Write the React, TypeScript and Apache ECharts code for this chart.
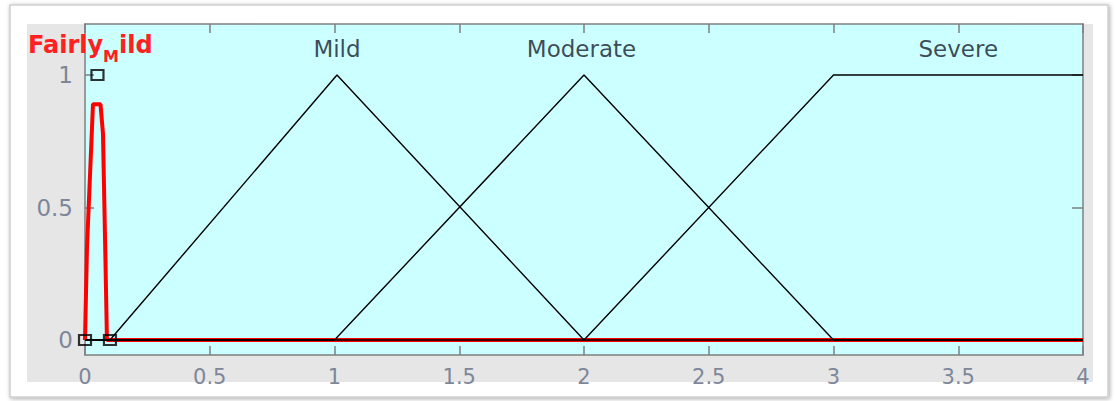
import React, { useEffect, useRef } from "react";
import * as echarts from "echarts";

// Membership functions (x, membership)
const fairlyMild: [number, number][] = [
  [0, 0], [0.008, 0.35], [0.032, 0.89], [0.062, 0.89], [0.072, 0.78], [0.082, 0.3], [0.088, 0], [4, 0],
];
const mild: [number, number][] = [[0, 0], [0.1, 0], [1.01, 1], [2, 0], [4, 0]];
const moderate: [number, number][] = [[0, 0], [1, 0], [2, 1], [3, 0], [4, 0]];
const severe: [number, number][] = [[0, 0], [2, 0], [3, 1], [4, 1]];
const controlPoints: [number, number][] = [[0, 0], [0.05, 1], [0.1, 0]];
const mfNames = ["Mild", "Moderate", "Severe"];
const mfLabelPos: [number, number][] = [[1.01, 1.1], [1.99, 1.1], [3.5, 1.1]];
const yTicks = [0, 0.5, 1];
const xTicks = [0, 0.5, 1, 1.5, 2, 2.5, 3, 3.5, 4];

export default function App() {
  const ref = useRef<HTMLDivElement>(null);
  useEffect(() => {
    if (!ref.current) return;
    const chart = echarts.init(ref.current, undefined, { renderer: "svg" });
    const axisColor = "#7f7f7f";
    const labelColor = "#7d8799";
    const font = "DejaVu Sans";
    chart.setOption({
      animation: false,
      graphic: [
        {
          type: "rect",
          z: -20,
          shape: { x: 10, y: 5, width: 1098, height: 392 },
          style: {
            fill: "#ffffff",
            stroke: "#cfcfcf",
            lineWidth: 1.5,
            shadowBlur: 4,
            shadowColor: "rgba(0,0,0,0.35)",
            shadowOffsetX: 1,
            shadowOffsetY: 1,
          },
        },
        {
          type: "rect",
          z: -10,
          shape: { x: 27, y: 24, width: 1066, height: 358 },
          style: { fill: "#e6e6e6" },
        },
        {
          type: "text",
          z: 10,
          left: 28,
          top: 33,
          style: {
            text: "{a|Fairly}{b|M}{a|ild}",
            rich: {
              a: { fontFamily: font, fontWeight: "bold", fontSize: 24, fill: "#ff2020", verticalAlign: "top" },
              b: { fontFamily: font, fontWeight: "bold", fontSize: 16, fill: "#ff2020", padding: [15, 0, 0, 0] },
            },
          },
        },
      ],
      grid: {
        left: 85,
        right: 32,
        top: 24,
        bottom: 46,
        show: true,
        backgroundColor: "#ccffff",
        borderWidth: 0,
      },
      xAxis: [
        {
          type: "value",
          min: 0,
          max: 4,
          interval: 0.5,
          position: "bottom",
          axisLine: { show: true, onZero: false, lineStyle: { color: axisColor, width: 1.5 } },
          axisTick: { show: true, inside: true, length: 9, lineStyle: { color: axisColor, width: 1.5 } },
          splitLine: { show: false },
          axisLabel: {
            color: labelColor,
            fontFamily: font,
            fontSize: 21,
            margin: 11,
            showMaxLabel: true,
            showMinLabel: true,
            customValues: xTicks,
          },
        },
        {
          type: "value",
          min: 0,
          max: 4,
          interval: 0.5,
          position: "top",
          axisLine: { show: true, onZero: false, lineStyle: { color: axisColor, width: 1.5 } },
          axisTick: { show: true, inside: true, length: 9, lineStyle: { color: axisColor, width: 1.5 } },
          splitLine: { show: false },
          axisLabel: { show: false },
        },
      ],
      yAxis: [
        {
          type: "value",
          min: -0.0566,
          max: 1.1925,
          position: "left",
          axisLine: { show: true, onZero: false, lineStyle: { color: axisColor, width: 1.5 } },
          axisTick: { show: true, inside: true, length: 9, customValues: yTicks, lineStyle: { color: axisColor, width: 1.5 } },
          splitLine: { show: false },
          axisLabel: { color: labelColor, fontFamily: font, fontSize: 23, margin: 12, customValues: yTicks },
        },
        {
          type: "value",
          min: -0.0566,
          max: 1.1925,
          position: "right",
          axisLine: { show: true, onZero: false, lineStyle: { color: axisColor, width: 1.5 } },
          axisTick: { show: true, inside: true, length: 11, customValues: yTicks, lineStyle: { color: axisColor, width: 1.5 } },
          splitLine: { show: false },
          axisLabel: { show: false },
        },
      ],
      series: [
        {
          name: "Fairly_Mild",
          type: "line",
          data: fairlyMild,
          symbol: "none",
          lineStyle: { color: "#ff0000", width: 4 },
          z: 2,
        },
        {
          name: "Mild",
          type: "line",
          data: mild,
          symbol: "none",
          lineStyle: { color: "#000000", width: 1.4 },
          z: 3,
        },
        {
          name: "Moderate",
          type: "line",
          data: moderate,
          symbol: "none",
          lineStyle: { color: "#000000", width: 1.4 },
          z: 3,
        },
        {
          name: "Severe",
          type: "line",
          data: severe,
          symbol: "none",
          lineStyle: { color: "#000000", width: 1.4 },
          z: 3,
        },
        {
          name: "points",
          type: "scatter",
          data: controlPoints,
          symbol: "rect",
          symbolSize: [12, 10],
          clip: true,
          itemStyle: { color: "rgba(0,0,0,0)", borderColor: "#000000", borderWidth: 2 },
          z: 4,
        },
        {
          name: "labels",
          type: "scatter",
          data: mfLabelPos.map((p, i) => ({ value: p, name: mfNames[i] })),
          symbolSize: 0,
          silent: true,
          label: {
            show: true,
            position: "inside",
            formatter: (p: any) => p.name,
            color: "#161a2c",
            fontFamily: font,
            fontSize: 23,
          },
          z: 5,
        },
      ],
    });
    return () => chart.dispose();
  }, []);
  return (
    <div
      ref={ref}
      style={{ position: "absolute", left: 0, top: 0, width: 1115, height: 401 }}
    />
  );
}
